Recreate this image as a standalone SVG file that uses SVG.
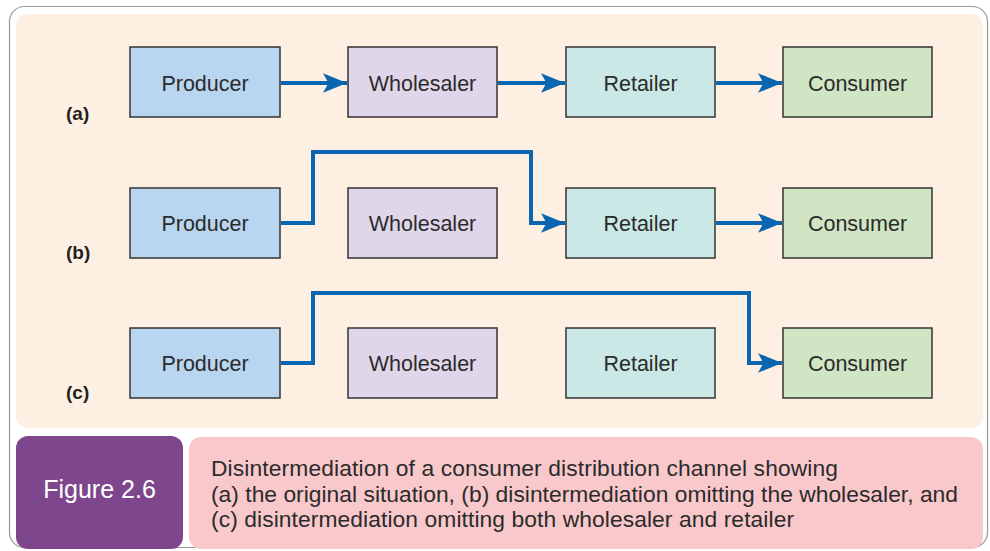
<svg xmlns="http://www.w3.org/2000/svg" width="990" height="551" viewBox="0 0 990 551">
<style>
.box{stroke:#333;stroke-width:1.5}
.prod{fill:#b9d6f0}.whol{fill:#e0d6ea}.ret{fill:#cae8e6}.cons{fill:#d0e5c3}
.lbl{font-family:"Liberation Sans",Arial,sans-serif;font-size:21.5px;fill:#2b2b2b;text-anchor:middle}
.tag{font-family:"Liberation Sans",Arial,sans-serif;font-size:19px;font-weight:bold;fill:#222}
.con{fill:none;stroke:#0b66b1;stroke-width:4;marker-end:url(#ah)}
.cap{font-family:"Liberation Sans",Arial,sans-serif;font-size:22.8px;fill:#2b2b2b}
</style>
<defs>
<marker id="ah" markerUnits="userSpaceOnUse" markerWidth="24" markerHeight="20" viewBox="0 0 22 18" refX="22" refY="9" orient="auto">
<path d="M0,0 L22,9 L0,18 L5,9 Z" fill="#0b66b1"/>
</marker>
</defs>
<rect x="9.5" y="6.5" width="978" height="541" rx="15" fill="#fff" stroke="#9a9a9a" stroke-width="1.2"/>
<rect x="16" y="14" width="967" height="414" rx="12" fill="#fdf0e2"/>
<g id="labels">
<text class="tag" x="66" y="120">(a)</text>
<text class="tag" x="66" y="259">(b)</text>
<text class="tag" x="66" y="399">(c)</text>
</g>
<g id="producer-a"><rect class="box prod" x="130" y="47" width="150" height="70"/><text class="lbl" x="205" y="91">Producer</text></g>
<g id="wholesaler-a"><rect class="box whol" x="348" y="47" width="149" height="70"/><text class="lbl" x="422.5" y="91">Wholesaler</text></g>
<g id="retailer-a"><rect class="box ret" x="566" y="47" width="149" height="70"/><text class="lbl" x="640.5" y="91">Retailer</text></g>
<g id="consumer-a"><rect class="box cons" x="783" y="47" width="149" height="70"/><text class="lbl" x="857.5" y="91">Consumer</text></g>
<g id="producer-b"><rect class="box prod" x="130" y="188" width="150" height="70"/><text class="lbl" x="205" y="231">Producer</text></g>
<g id="wholesaler-b"><rect class="box whol" x="348" y="188" width="149" height="70"/><text class="lbl" x="422.5" y="231">Wholesaler</text></g>
<g id="retailer-b"><rect class="box ret" x="566" y="188" width="149" height="70"/><text class="lbl" x="640.5" y="231">Retailer</text></g>
<g id="consumer-b"><rect class="box cons" x="783" y="188" width="149" height="70"/><text class="lbl" x="857.5" y="231">Consumer</text></g>
<g id="producer-c"><rect class="box prod" x="130" y="328" width="150" height="70"/><text class="lbl" x="205" y="371">Producer</text></g>
<g id="wholesaler-c"><rect class="box whol" x="348" y="328" width="149" height="70"/><text class="lbl" x="422.5" y="371">Wholesaler</text></g>
<g id="retailer-c"><rect class="box ret" x="566" y="328" width="149" height="70"/><text class="lbl" x="640.5" y="371">Retailer</text></g>
<g id="consumer-c"><rect class="box cons" x="783" y="328" width="149" height="70"/><text class="lbl" x="857.5" y="371">Consumer</text></g>
<g id="connectors">
<path class="con" d="M281,83 H347"/>
<path class="con" d="M498,83 H565"/>
<path class="con" d="M716,83 H782"/>
<path class="con" d="M281,223 H313 V152 H531 V223 H565"/>
<path class="con" d="M716,223 H782"/>
<path class="con" d="M281,363 H313 V293 H749 V363 H782"/>
</g>
<g id="figure-label">
<rect x="16" y="436" width="167" height="113" rx="12" fill="#7e468c"/>
<text x="99.5" y="498" font-family="'Liberation Sans',Arial,sans-serif" font-size="25" fill="#fff" text-anchor="middle">Figure 2.6</text>
</g>
<g id="caption">
<rect x="189" y="437" width="794" height="112" rx="12" fill="#f8c8cb"/>
<text class="cap" x="211" y="476" textLength="627" lengthAdjust="spacing">Disintermediation of a consumer distribution channel showing</text>
<text class="cap" x="211" y="501.5" textLength="747" lengthAdjust="spacing">(a) the original situation, (b) disintermediation omitting the wholesaler, and</text>
<text class="cap" x="211" y="527" textLength="583" lengthAdjust="spacing">(c) disintermediation omitting both wholesaler and retailer</text>
</g>
</svg>
